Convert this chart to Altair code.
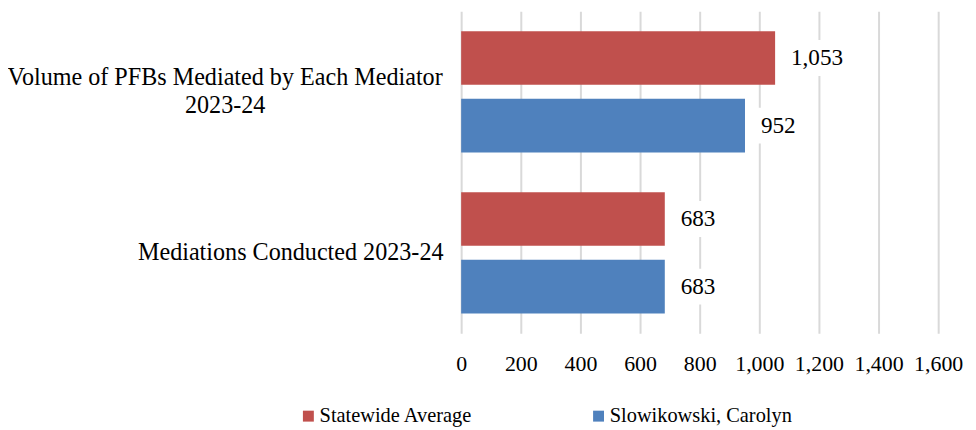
import altair as alt
import pandas as pd

# ---- data ----
categories = [
    "Volume of PFBs Mediated by Each Mediator|2023-24",
    "Mediations Conducted 2023-24",
]
series = ["Statewide Average", "Slowikowski, Carolyn"]
statewide_avg = [1053, 683]
slowikowski = [952, 683]
colors = ["#C0504D", "#4F81BD"]
tick_values = [0, 200, 400, 600, 800, 1000, 1200, 1400, 1600]

rows = []
for i, c in enumerate(categories):
    rows.append({"category": c, "series": series[0], "value": statewide_avg[i]})
    rows.append({"category": c, "series": series[1], "value": slowikowski[i]})
df = pd.DataFrame(rows)

FONT = "Liberation Serif"


def y_axis(idx, pad, offset):
    return alt.Axis(
        title=None, ticks=False, domain=False, grid=False, orient="left",
        labelFontSize=24.3, labelFont=FONT, labelColor="black",
        labelPadding=pad, labelLimit=0, labelAlign="center", labelOffset=offset,
        labelExpr=f"datum.label == '{categories[idx]}' ? split(datum.label, '|') : ''",
        labelLineHeight=28,
    )


y_scale = alt.Scale(paddingInner=0, paddingOuter=0)
yoff_enc = alt.YOffset(
    "series:N", sort=series,
    scale=alt.Scale(paddingInner=0.206, paddingOuter=0.294),
)
x_enc = alt.X(
    "value:Q",
    scale=alt.Scale(domain=[0, 1600], nice=False),
    axis=alt.Axis(
        title=None, values=tick_values, format=",.0f", grid=True, gridColor="#D9D9D9",
        gridWidth=2, domain=False, ticks=False, labelFontSize=22, labelFont=FONT,
        labelColor="black", labelPadding=20, labelFlush=False,
    ),
)

bars = alt.Chart(df).mark_bar().encode(
    x=x_enc,
    y=alt.Y("category:N", sort=categories, scale=y_scale, axis=y_axis(0, 238, -14)),
    yOffset=yoff_enc,
    color=alt.Color(
        "series:N",
        scale=alt.Scale(domain=series, range=colors),
        legend=alt.Legend(
            title=None, orient="none", legendX=-164, legendY=397,
            direction="horizontal", columns=2, columnPadding=116,
            symbolType="square", symbolSize=121, symbolStrokeWidth=0,
            labelFontSize=20.5, labelFont=FONT, labelColor="black", labelOffset=1,
            labelLimit=0,
        ),
    ),
)

label_bg = alt.Chart(df).mark_bar(color="white", size=36, xOffset=8, x2Offset=72).encode(
    x="value:Q",
    x2="value:Q",
    y=alt.Y("category:N", sort=categories, scale=y_scale, axis=y_axis(1, 172, 0)),
    yOffset=alt.YOffset("series:N", sort=series),
)

labels = alt.Chart(df).mark_text(
    align="left", baseline="middle", dx=16, fontSize=23.3, font=FONT, color="black"
).encode(
    x="value:Q",
    y=alt.Y("category:N", sort=categories, axis=None),
    yOffset=alt.YOffset("series:N", sort=series),
    text=alt.Text("value:Q", format=","),
)

chart = (
    alt.layer(bars, label_bg, labels)
    .resolve_axis(y="independent")
    .properties(
        width=480,
        height=324,
        autosize=alt.AutoSizeParams(type="none"),
        padding={"left": 456, "top": 2, "right": 30, "bottom": 96},
    )
    .configure_view(stroke=None)
)

chart.save("out.html", embed_options={"renderer": "svg", "actions": False})
